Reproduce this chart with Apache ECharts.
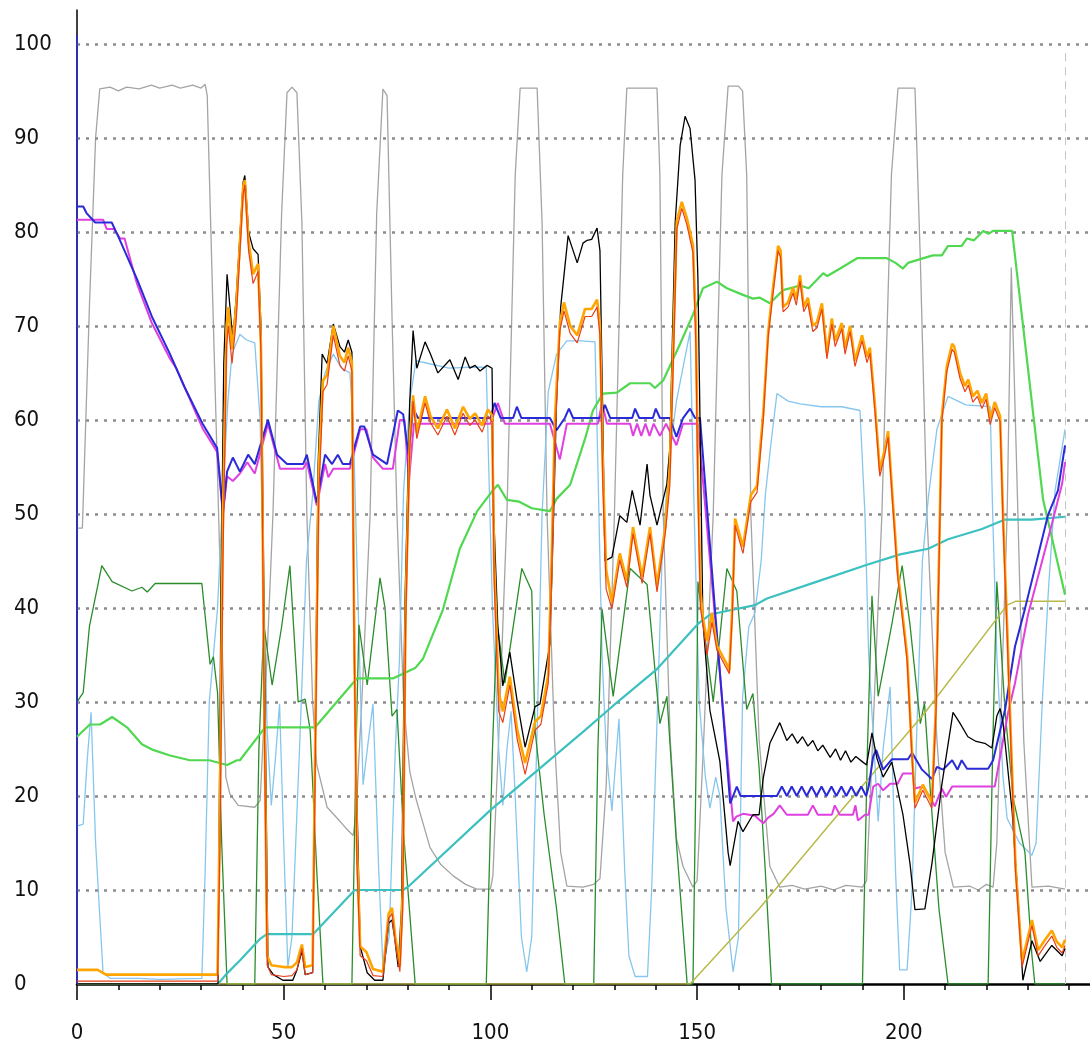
<!DOCTYPE html>
<html><head><meta charset="utf-8">
<script src="https://cdn.jsdelivr.net/npm/echarts@6/dist/echarts.min.js"></script>
<style>html,body{margin:0;padding:0;background:#fff}#c{width:1090px;height:1061px}</style>
</head><body><div id="c"></div>
<script>
const yTicks = [0,10,20,30,40,50,60,70,80,90,100];
const xTicks = [0,50,100,150,200];

const gray = [[0,48.5],[1.3,48.5],[3,72],[4.5,90],[5.5,95.2],[8,95.4],[10,95],[12,95.4],[15,95.2],[18,95.6],[20,95.3],[23,95.6],[25,95.3],[28,95.6],[30,95.3],[31,95.7],[31.5,94.5],[33,70],[34.5,46],[36,22],[37,20.2],[39,19],[43,18.8],[44.3,19.5],[46,35],[47.4,50],[49.5,82],[50.8,94.8],[52,95.4],[53.2,94.8],[54.4,81],[55.6,50],[57,30],[58,23.3],[60.5,18.8],[63,17.6],[65,16.6],[66.8,15.8],[67.5,18],[69,31],[70.9,50],[72.5,82],[74,95.2],[75,94.5],[76.2,71],[77.4,50],[79,30],[80.5,22.6],[82,19.7],[85.4,14.5],[88,12.7],[91,11.5],[94,10.6],[96.7,10.1],[100,10.1],[100.6,11.5],[102,26],[104,50],[106,86],[107.2,95.3],[111.3,95.3],[112.5,81],[113.7,50],[115.5,26],[117,14],[118.5,10.4],[122.4,10.3],[125,10.6],[126.5,11.2],[128,21],[130,50],[132,86],[133,95.3],[140.3,95.3],[141,86],[141.8,50],[143.5,26],[145,15.5],[146.6,12.5],[149,10.3],[150,11],[151.5,25],[153.9,50],[156,86],[157.5,95.5],[160,95.5],[161,95],[162,86],[163,50],[165,26],[167.6,12.5],[170,10.3],[173,10.5],[176,10.1],[180,10.4],[183,10],[186,10.5],[190,10.3],[191,11],[192,21],[194.7,50],[197,86],[198.6,95.3],[202.7,95.3],[204,77],[205.6,50],[208,26],[210,14],[212,10.3],[216,10.4],[218,10],[220,10.6],[221.6,10.3],[222.5,15],[225,50],[226,76.2],[227.6,50],[229,26],[231,10.3],[235,10.4],[239,10.1]];

const skyblue = [[0,16.8],[1.5,17],[2.5,24],[3.4,28.9],[4.5,15],[6.3,1.2],[8,0.6],[15,0.6],[20,0.5],[30.2,0.6],[31,12],[32,30],[33,35],[34,40],[35.3,52.5],[36.5,62],[37.5,67],[39.4,69.1],[41,68.5],[43,68.2],[44.3,60],[45,45],[46,27],[47,19],[48,24],[49,29.8],[50,15],[51,1.8],[52,5],[54,27],[55.5,45],[57,52],[58.5,62],[60,65],[62,67],[64,65.5],[66,65],[66.8,60],[67.7,45],[69.2,21.2],[70.5,26],[71.6,29.8],[73,12],[74,1.8],[75.5,5],[77,25],[78,34.5],[79,52.5],[80.5,62],[82,66.3],[85,66],[90,65.5],[95,65.6],[99,65.6],[99.6,55],[100.5,40],[102,25],[103,19],[104,25],[105,29],[106,20],[107.5,5],[108.8,1.3],[110,5],[111.3,27],[112.5,50],[114,63],[116,67],[118.5,68.4],[122,68.4],[125.3,68.3],[126,55],[127,35],[128,25],[129.4,18.4],[131.1,28.2],[132.5,12],[133.5,3],[135,0.8],[138,0.8],[139,10],[140.5,30.5],[141.5,45],[143,55],[145,62],[148.3,69.4],[149.3,50],[150.5,30],[152,22],[153.1,18.7],[154.5,22],[155.5,20],[157,8],[158.7,1.3],[160,5],[161,30.5],[162.5,38],[164,39.5],[165.5,45],[166.5,52],[168,58],[169.3,62.8],[172,62],[175,61.7],[180,61.4],[185,61.4],[189.4,61],[190.6,50],[191.5,35],[193.8,17.3],[195,25],[196.7,31.6],[198,12],[199,1.5],[200.8,1.5],[202,10],[203,25],[204.5,45],[206,52],[208,59],[210.7,62.5],[215,61.6],[220.9,61.4],[221.5,50],[222.5,35],[224,22],[225,17.6],[228,15],[231,13.7],[232,15],[233.5,30],[235,42],[236.6,52.5],[239,59]];

const darkgreen = [[0,30],[1.5,31],[3,38],[6,44.5],[8.5,42.8],[13.3,41.8],[15.7,42.2],[17,41.7],[18.9,42.6],[30.2,42.6],[32.2,34],[33,34.8],[34,31],[35,15],[36.3,0],[43,0],[44,25],[45.2,38.2],[47.2,31.8],[49.5,38],[51.5,44.5],[53.5,30],[55.2,30.3],[56.4,27],[58,12],[59.5,0],[66.5,0],[67.5,25],[68.2,38.2],[70.2,31.8],[73.3,43.2],[74.5,40],[76.2,28.5],[77.4,29.2],[79,16],[81.8,0],[99,0],[100.5,25],[101.6,38.6],[103.5,32],[107.6,44.2],[110,41.8],[110.8,27],[113,18],[116,8],[118,0],[125,0],[126,25],[127,39.9],[129.7,30.6],[133.8,44.2],[137.9,42.5],[141,27.7],[142.7,30.6],[145,15],[147.6,0],[149,0],[149.8,25],[150.2,42.8],[153.9,30],[157.2,44.2],[159.6,41.8],[162,29.2],[163.5,30.9],[165,23],[166.5,12],[168,0],[190,0],[191.2,25],[192.3,41.3],[193.8,30.6],[197,38],[199.6,44.5],[201.5,38.2],[204,27.7],[205,29.9],[206.5,20],[208.5,8],[210.7,0],[220.4,0],[221.5,25],[222.5,42.8],[223.5,36],[224.5,29],[226.5,19.7],[229.3,14],[231,3],[231.7,0],[239,0]];

const lightgreen = [[0,26.3],[3.1,27.6],[5.6,27.6],[8.5,28.4],[12.1,27.3],[15.7,25.5],[18.4,24.9],[22.5,24.3],[27.3,23.8],[32,23.8],[36.3,23.3],[38.7,23.8],[39.4,23.8],[45.5,27.3],[57.6,27.3],[67.7,32.5],[76.4,32.5],[81.8,33.6],[83.7,34.6],[88.5,39.8],[92.6,46.3],[96.8,50.3],[100.4,52.4],[101.8,53.1],[104,51.5],[107,51.3],[110,50.6],[114.4,50.3],[116,51.6],[119.3,53.1],[122.9,58],[124.8,61],[127.2,62.8],[130.6,62.9],[133.8,63.9],[138.6,63.9],[139.8,63.4],[141.8,64.2],[145.9,68.1],[149,71.2],[151.4,74],[154.8,74.7],[157.2,74],[161.1,73.3],[163.5,72.9],[165.2,73],[167.6,72.4],[170.8,73.8],[174.9,74.3],[177,74],[180.5,75.6],[181.5,75.3],[184.6,76.1],[188.7,77.2],[195.9,77.2],[198,76.7],[199.8,76.1],[201,76.7],[207,77.5],[209.2,77.5],[210.7,78.5],[214,78.5],[215.3,79.3],[217,79.1],[219.2,80.1],[220.5,79.8],[221.6,80.1],[226.2,80.1],[233.7,51.5],[239,41.4]];

const turquoise = [[0,0],[34.1,0],[36,1],[39.4,2.5],[44.3,4.8],[45.9,5.3],[57.1,5.3],[67.2,10],[78.9,10],[80.5,10.5],[100,18.5],[122.9,27],[129.7,29.6],[140.3,33.5],[150.2,38.3],[153.1,39.3],[164,40.3],[166.9,41],[179,42.8],[191.1,44.6],[199.1,45.7],[205.9,46.3],[210.7,47.3],[218.9,48.4],[224.5,49.4],[231,49.4],[239,49.7]];

const olive = [[0,0],[148.3,0],[165,8],[185,18.5],[205,28.8],[225,40.3],[227,40.7],[239,40.7]];

const blue = [[0,82.7],[1.5,82.7],[2.3,82],[4.4,81],[8.4,81],[10,79.5],[14.5,75],[18.1,71],[22.5,67],[26,63.5],[30.5,59.5],[33.9,57],[35.3,50.2],[36.3,54.5],[37.7,56],[39.4,54.5],[41.4,56.3],[43,55.3],[46.2,60],[48.4,56.3],[50.8,55.3],[54.7,55.3],[55.6,56.3],[58,51.2],[60,56.3],[61.7,55.3],[63.1,56.3],[64.3,55.3],[66,55.3],[68.5,59.3],[69.5,59.3],[71.6,56.3],[75,55.3],[77.6,61],[78.9,60.6],[80.2,56.3],[81.3,61.2],[82.5,60.2],[100,60.2],[101,61.8],[102.5,60.2],[105.5,60.2],[106.4,61.4],[107.5,60.2],[114.4,60.2],[116,58.9],[118,60.2],[119,61.2],[120,60.2],[126.5,60.2],[127.7,61.6],[129,60.2],[134.3,60.2],[135,61.2],[136,60.2],[139.3,60.2],[140,61.2],[141,60.2],[143.4,60.2],[145,58.2],[146.6,60.2],[148.3,61.2],[149.5,60.2],[150.7,60.2],[158,19.2],[159.6,21],[160.5,20],[169.3,20],[170.5,21],[171.7,20],[172.9,21],[174.1,20],[175.3,21],[176.5,20],[177.7,21],[178.9,20],[180.1,21],[181.3,20],[182.5,21],[183.7,20],[184.9,21],[186.1,20],[187.3,21],[188.5,20],[189.7,21],[190.9,20],[191.5,21],[192.6,24.2],[193.3,24.9],[195,22.8],[197.1,23.9],[201,23.9],[202,24.6],[204.4,22.8],[206.8,21.8],[208,23.1],[209.5,22.8],[211.7,23.8],[213,22.8],[214,23.8],[215.3,22.9],[220.4,22.9],[221.6,23.8],[224.5,29.2],[226.9,35.9],[229.3,39.9],[234.9,49.9],[237.3,52.5],[239,57.3]];

const magenta = [[0,81.3],[6.3,81.3],[7.2,80.3],[9,80.3],[10.4,79.3],[11.5,79.3],[14.5,74.5],[18.1,70.3],[22.5,66.5],[24,65.5],[30.5,59],[33.9,56.6],[35.3,50],[36.3,54],[37.7,53.5],[39.4,54.3],[41.2,55.5],[43,54.3],[46.2,59.6],[49.1,54.8],[54.7,54.8],[55.6,55.5],[58,50.9],[60,55.3],[60.8,53.9],[62,54.8],[66,54.8],[68.5,59],[70,59],[71.6,56],[74,54.8],[76.4,54.8],[78.1,60],[79.2,60],[80.3,53.5],[81.5,59.6],[82.5,59.6],[100,59.6],[101.8,61.8],[103.5,59.6],[114.4,59.6],[116.8,55.8],[118.5,59.6],[126,59.6],[127,61.8],[128.2,59.6],[133.8,59.6],[134.5,58.3],[135.5,59.6],[136.5,58.3],[137.5,59.6],[138.5,58.3],[139.5,59.6],[141,58.3],[142.5,59.6],[145,57.3],[146.6,59.6],[150.2,59.6],[158.4,18.7],[158.7,17.3],[159.5,17.8],[161.1,18.1],[164,17.9],[166,17.1],[167.2,17.7],[168.5,18.1],[170,19],[171.7,18],[176.8,18],[178,19],[179.2,18],[182.6,18],[183.3,19],[184.5,18],[187.7,18],[188.3,19],[188.9,17.4],[190.6,18],[191.5,18],[192.6,21],[193.8,21.3],[195,20.6],[196.7,21.3],[198.5,21.3],[199.8,22.4],[202.2,22.4],[202.7,20.8],[204.6,21],[206.3,19.9],[207.5,18.9],[209.2,20.8],[210.2,19.9],[211.7,21],[222,21],[225.2,28.8],[226.9,32],[230,39.2],[235.8,48.9],[238.3,53.2],[239,55.5]];

const black = [[0,0],[34.1,0],[34.8,40],[35.5,66],[36.3,75.5],[36.8,73],[37.7,68.5],[38.5,73],[40.2,85.3],[40.6,86],[41.5,80],[42.6,78.2],[43.8,77.6],[44.5,70],[45.5,30],[46.2,1.8],[47.5,1],[49.8,0.4],[52.2,0.4],[53.2,1.5],[54.4,3.5],[55.2,1],[57,1.2],[57.6,25],[58.3,55],[59.3,67],[60.5,66],[62,70.2],[63.6,67.8],[64.7,67.2],[65.6,68.5],[66.5,67.2],[67.2,30],[68.5,4],[70.2,1.2],[72,0.4],[74,0.4],[75.4,6.5],[76.2,6.8],[76.8,5],[77.7,1.8],[78.5,8],[79.3,40],[80.5,62],[81.3,69.5],[82.2,65.5],[84.2,68.3],[85.5,67],[87.3,65],[90.2,66.4],[92.2,64.3],[93.9,66.7],[95,65.5],[96.3,65.8],[97.5,65.2],[99.2,65.8],[100.4,65.5],[100.8,50],[101.8,38],[103,31.7],[104.7,35.3],[106.5,30],[108.4,25.2],[110.8,29.5],[112,29.8],[114.4,36.2],[115.3,50],[116,62],[117,72],[118.8,79.6],[121,76.7],[122.4,78.8],[123.4,79.1],[124.5,79.2],[125.8,80.4],[126.5,78],[127.2,60],[127.7,45],[129.4,45.4],[131.3,49.8],[133,49.1],[134.3,52.5],[136.2,48.8],[137.9,55.3],[138.6,52],[140.3,48.8],[142.7,53.2],[143.4,57],[144.7,81],[145.9,89.2],[147.1,92.3],[148.3,91],[149.5,85.5],[150.2,75],[150.7,60],[151.4,38.6],[153.1,29.1],[155.5,23.7],[157.5,14],[158,12.6],[159.9,17.3],[161.1,16.2],[163.5,18],[165,18],[166,21.9],[167.6,25.6],[170,27.8],[171.7,25.9],[173,26.6],[174.3,25.6],[175.5,26.3],[176.8,25.3],[178,25.9],[179.2,24.8],[180.4,25.4],[182.2,24.1],[183.5,25],[184.7,23.8],[185.9,24.8],[187.2,23.6],[188.4,24.2],[190.1,23.6],[191,23.3],[192.3,26.7],[193.5,24],[195,22],[197.1,23.6],[199.8,18],[201.5,12.8],[202.7,7.9],[205.1,8],[206.8,12.8],[209.2,21.2],[211.9,28.9],[213.5,27.8],[215.5,26.3],[217.5,25.8],[219.6,25.6],[221.3,25.1],[222.5,28.5],[223.3,29.3],[224,27.8],[226.2,18.4],[227.6,9.3],[228.8,0.4],[231,4.6],[233,2.4],[235.8,4.1],[238.3,3],[239,3.8]];

const orange = [[0,1.5],[5,1.5],[7,1],[20,1],[34,1],[34.6,20],[35.3,50],[36.2,70],[36.6,72],[37.5,67.5],[38.5,72],[40.2,84.8],[40.6,85.5],[41.5,79],[42.6,75.5],[43.8,76.6],[44.5,68],[45.3,30],[46,3],[47,2],[50,1.8],[52,1.8],[53.2,2.3],[54.4,4.2],[55.2,1.8],[57,2],[57.6,25],[58.5,55],[59.5,64.2],[60.5,64.8],[62,70],[63.6,66.8],[64.7,66.1],[65.6,67.7],[66.5,66.1],[67,40],[67.7,15],[68.5,4],[70,3.4],[71.6,1.6],[74,1.3],[75.4,7.5],[76.2,8.1],[77,5],[78.1,1.9],[78.8,10],[79.5,40],[80.5,58],[81.3,62.6],[82.2,58.6],[84.2,62.5],[85.5,60.4],[87.3,59.1],[89.5,61.1],[91.4,59.1],[93.4,61.4],[95,60.1],[96.3,60.7],[98,59.4],[99.4,61.1],[100.4,60.5],[100.9,45],[102,31],[103,29],[104.7,32.7],[106.5,27],[108.4,23.5],[110.8,27.9],[112.2,28.5],[114,32.9],[114.8,45],[115.6,60],[116.8,70.3],[117.8,72.5],[119.3,70],[121,69],[122.9,71.8],[124.5,71.8],[125.8,72.8],[126.5,70],[127.2,55],[128,44],[129.4,40.6],[131.3,45.8],[133,42.9],[134.5,48.6],[136.7,43.3],[138.6,48.6],[140.3,42.4],[142.3,48.6],[143.4,55],[144.5,72],[145.1,81.2],[146.3,83.2],[147.5,81.5],[149,78.6],[149.7,70],[150.2,55],[150.8,42],[151.4,38.9],[152.4,36.5],[153.6,39.5],[154.8,36],[157.2,34],[157.8,33.3],[158.5,40],[159.2,49.5],[161.1,46.5],[163,52],[164.5,53],[166,60.7],[167.2,69.4],[168.3,73.8],[169.6,78.5],[170.2,78],[170.8,72],[172,72.5],[173.2,74.1],[174,72.8],[174.9,75.4],[175.8,72],[176.8,73],[178,70],[179,70.4],[180.2,72.4],[181.4,67.1],[182.6,70.8],[183.4,68.4],[185,70.3],[185.8,67.6],[187,70],[188.2,66.3],[189.9,69],[191.1,66.7],[191.8,67.7],[193,61.7],[194.2,54.6],[195.5,57.1],[196.2,58.8],[197.4,51],[198.5,44],[200.8,35],[202,24.5],[202.7,19.3],[204.6,21.2],[206.8,19.3],[207.8,30],[208.5,45],[209.2,60.4],[210.4,65.7],[211.7,68.1],[212.2,67.8],[213.6,65],[214.8,63.6],[215.6,64.3],[216.7,62.5],[217.8,63.1],[218.9,61.8],[219.9,62.8],[220.9,60.1],[222,61.9],[223.3,60.4],[224,50],[225,38],[226,25],[227,12.8],[228.6,2.4],[231,6.8],[232.5,3.6],[234,4.6],[235.8,5.7],[237,4.5],[238.3,3.9],[239,4.7]];

const red = [[0,0.3],[34,0.3],[34.6,15],[35.3,45],[36.2,68],[36.6,70],[37.5,66],[38.5,70.5],[40.2,84],[40.6,85],[41.5,78],[42.6,74.5],[43.8,75.8],[44.5,67],[45.3,28],[46,2],[47,1],[50,0.8],[52,0.9],[53.2,1.5],[54.4,3.8],[55.2,1],[57,1.2],[57.6,22],[58.5,52],[59.5,63],[60.5,63.8],[62,69],[63.6,65.8],[64.7,65.2],[65.6,66.8],[66.5,65.2],[67,38],[67.7,13],[68.5,3],[70,2.5],[71.6,0.9],[74,0.8],[75.4,7],[76.2,7.5],[77,4.5],[78.1,1.3],[78.8,8],[79.5,38],[80.5,57],[81.3,62],[82.2,58],[84.2,61.8],[85.5,59.7],[87.3,58.4],[89.5,60.4],[91.4,58.4],[93.4,60.7],[95,59.4],[96.3,60],[98,58.7],[99.4,60.4],[100.4,59.8],[100.9,43],[102,29],[103,27.8],[104.7,31.8],[106.5,26],[108.4,22.3],[110.8,27],[112.2,27.6],[114,32],[114.8,43],[115.6,58],[116.8,69.5],[117.8,71.6],[119.3,69.2],[121,68.2],[122.9,71],[124.5,71],[125.8,72],[126.5,69],[127.2,53],[128,42],[129.4,39.9],[131.3,45.1],[133,42.2],[134.5,47.9],[136.7,42.6],[138.6,47.9],[140.3,41.7],[142.3,47.9],[143.4,53],[144.5,70],[145.1,80.3],[146.3,82.5],[147.5,80.8],[149,77.8],[149.7,68],[150.2,52],[150.8,40],[151.4,38.3],[152.4,35],[153.6,38.5],[154.8,35.5],[157.2,33.5],[157.8,33],[158.5,39],[159.2,48.8],[161.1,45.8],[163,51.3],[164.5,52.3],[166,60],[167.2,68.8],[168.3,73.2],[169.6,78],[170.2,77.3],[170.8,71.5],[172,72],[173.2,73.5],[174,72.2],[174.9,74.8],[175.8,71.5],[176.8,72.4],[178,69.4],[179,69.8],[180.2,71.8],[181.4,66.5],[182.6,70.2],[183.4,67.8],[185,69.7],[185.8,67],[187,69.4],[188.2,65.7],[189.9,68.4],[191.1,66.1],[191.8,67.1],[193,61],[194.2,54],[195.5,56.5],[196.2,58.2],[197.4,50.4],[198.5,43.4],[200.8,34.4],[202,23.9],[202.7,18.7],[204.6,20.6],[206.8,18.7],[207.8,29],[208.5,44],[209.2,59.8],[210.4,65.1],[211.7,67.5],[212.2,67.2],[213.6,64.4],[214.8,63],[215.6,63.7],[216.7,61.9],[217.8,62.5],[218.9,61.2],[219.9,62.2],[220.9,59.5],[222,61.3],[223.3,59.8],[224,49],[225,37],[226,24],[227,12],[228.6,1.8],[231,6.2],[232.5,3],[234,4],[235.8,5.1],[237,3.9],[238.3,3.3],[239,4.1]];

const chart = echarts.init(document.getElementById('c'), null, {renderer:'canvas'});
const FONT = '"DejaVu Sans Condensed","Liberation Sans Narrow","Liberation Sans",sans-serif';

function mk(name, data, color, width, z) {
  return {name, type:'line', data, symbol:'none', showSymbol:false, z,
    lineStyle:{color, width}, itemStyle:{color}, emphasis:{disabled:true}, animation:false};
}

const gridLines = yTicks.filter(v => v > 0).map(v => ({yAxis: v}));

const series = [
  {name:'grid', type:'line', data:[[0,0]], symbol:'none', lineStyle:{opacity:0}, z:1, silent:true, animation:false,
   markLine:{silent:true, symbol:['none','none'], label:{show:false}, animation:false,
     lineStyle:{type:[3,6], color:'#8c8c8c', width:2.5},
     data: gridLines.concat([
       [{coord:[239,99], lineStyle:{type:[8,6], color:'#c4c4c4', width:1}}, {coord:[239,0]}],
       [{coord:[0,0], lineStyle:{type:'solid', color:'#2a2ad8', width:1.5}}, {coord:[0,101]}]
     ])}},
  mk('gray', gray, '#a4a4a4', 1.3, 2),
  mk('skyblue', skyblue, '#86c6ee', 1.3, 3),
  mk('darkgreen', darkgreen, '#2a8c2a', 1.3, 4),
  mk('lightgreen', lightgreen, '#50d850', 2.2, 5),
  mk('turquoise', turquoise, '#3cc0c0', 2.2, 6),
  mk('olive', olive, '#b9b94a', 1.5, 7),
  mk('magenta', magenta, '#e040e0', 2, 8),
  mk('blue', blue, '#2a2ad8', 2, 9),
  mk('black', black, '#000000', 1.3, 10),
  mk('orange', orange, '#ffa500', 2.6, 11),
  mk('red', red, '#e8401a', 1.2, 12)
];

chart.setOption({
  animation:false,
  backgroundColor:'#ffffff',
  grid:{left:77, right:-20.5, top:10, bottom:77, containLabel:false, outerBoundsMode:'none'},
  xAxis:{type:'value', min:0, max:250, interval:50,
    axisLine:{show:true, onZero:false, lineStyle:{color:'#000', width:2.5}},
    axisTick:{show:true, length:16, lineStyle:{color:'#000', width:1.5}},
    minorTick:{show:true, splitNumber:5, length:6, lineStyle:{color:'#000', width:1.5}},
    splitLine:{show:false}, minorSplitLine:{show:false},
    axisLabel:{margin:38, fontFamily:FONT, fontSize:22, color:'#111',
      formatter: v => (xTicks.indexOf(v) >= 0 ? String(v) : '')}},
  yAxis:{type:'value', min:0, max:103.6, interval:10,
    axisLine:{show:true, lineStyle:{color:'#000', width:1.5}},
    axisTick:{show:false}, splitLine:{show:false},
    axisLabel:{margin:63, align:'left', fontFamily:FONT, fontSize:22, color:'#111',
      formatter: v => (yTicks.indexOf(v) >= 0 ? String(v) : '')}},
  series
});
</script></body></html>
